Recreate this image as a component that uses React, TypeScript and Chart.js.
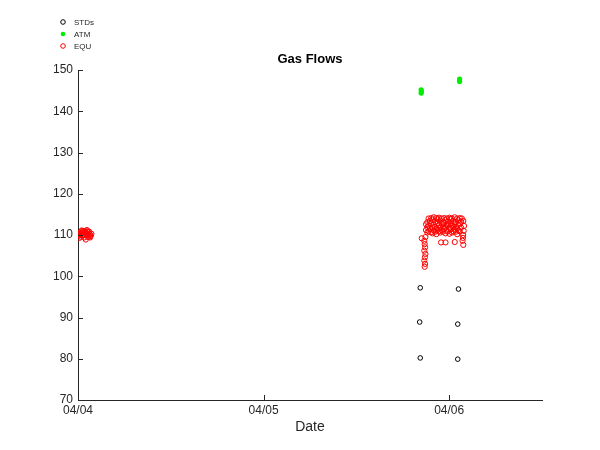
import React, { useEffect, useRef } from "react";
import { Chart, registerables } from "chart.js";
Chart.register(...registerables);

// x values are days after 04/04 00:00
const dayLabels = ["04/04", "04/05", "04/06"];
const dayTicks = [0, 1, 2];

const stdTimes = [1.844, 1.841, 1.844, 2.05, 2.046, 2.046];
const stdValues = [97.2, 88.9, 80.2, 96.9, 88.4, 79.9];

const atmTimes = [1.849, 1.849, 1.85, 2.056, 2.056];
const atmValues = [145.2, 144.4, 144.8, 147.8, 147.2];

const equLeftTimes = [0.0, 0.003, 0.006, 0.009, 0.012, 0.015, 0.018, 0.021, 0.024, 0.027, 0.03, 0.033, 0.036, 0.039, 0.042, 0.045, 0.048, 0.051, 0.054, 0.057, 0.06, 0.063, 0.066, 0.069, 0.072, 0.008, 0.02, 0.035, 0.05, 0.065];
const equLeftValues = [110.0, 109.8, 110.2, 110.5, 109.6, 110.8, 110.3, 109.9, 110.6, 111.0, 110.1, 109.4, 110.7, 110.9, 108.9, 110.4, 111.2, 110.0, 109.5, 110.6, 110.8, 110.2, 109.7, 109.9, 110.3, 109.3, 111.1, 110.0, 110.9, 109.4];

const equRightTimes = [
  1.866, 1.868, 1.87, 1.866, 1.872, 1.869, 1.866, 1.87, 1.868,
  1.852, 1.872, 1.956, 1.98, 2.03, 2.076,
  2.075, 2.078, 2.072, 2.08, 2.076, 2.068, 2.074,
  1.875, 1.875,
  1.882, 1.882, 1.882,
  1.889, 1.889, 1.889,
  1.896, 1.896,
  1.903, 1.903, 1.903,
  1.91, 1.91, 1.91,
  1.917, 1.917, 1.917,
  1.924, 1.924, 1.924,
  1.931, 1.931, 1.931,
  1.938, 1.938, 1.938,
  1.945, 1.945, 1.945,
  1.952, 1.952, 1.952,
  1.959, 1.959, 1.959,
  1.966, 1.966, 1.966,
  1.973, 1.973, 1.973,
  1.98, 1.98, 1.98,
  1.987, 1.987, 1.987,
  1.994, 1.994, 1.994,
  2.001, 2.001, 2.001,
  2.008, 2.008, 2.008,
  2.015, 2.015, 2.015,
  2.022, 2.022, 2.022,
  2.029, 2.029, 2.029,
  2.036, 2.036, 2.036,
  2.043, 2.043, 2.043,
  2.05, 2.05, 2.05,
  2.057, 2.057, 2.057,
  2.064, 2.064,
];
const equRightValues = [
  108.6, 107.8, 107.0, 106.2, 105.4, 104.6, 103.8, 103.0, 102.3,
  109.2, 109.5, 108.2, 108.2, 108.3, 107.6,
  110.0, 111.0, 108.6, 112.2, 113.4, 114.0, 109.3,
  111.2, 112.6,
  110.6, 113.1, 111.9,
  112.3, 114.0, 110.9,
  111.5, 113.4,
  110.7, 112.8, 114.1,
  111.9, 113.7, 110.4,
  112.5, 114.3, 111.1,
  110.8, 113.2, 112.0,
  111.6, 114.1, 110.2,
  112.9, 113.8, 111.3,
  110.9, 112.3, 114.2,
  111.8, 113.5, 110.6,
  112.7, 114.0, 111.2,
  110.8, 113.0, 112.1,
  111.5, 114.1, 112.9,
  110.4, 113.6, 111.9,
  112.4, 114.0, 111.0,
  110.9, 113.3, 112.6,
  111.7, 114.2, 110.3,
  112.8, 113.9, 111.4,
  110.6, 112.2, 114.0,
  111.9, 113.4, 110.9,
  112.6, 114.3, 111.3,
  110.8, 113.1, 112.0,
  111.6, 114.0, 110.2,
  112.5, 113.6, 111.1,
  110.9, 112.9, 114.1,
  111.8, 113.2,
];

const seriesNames = ["STDs", "ATM", "EQU"];
const titleText = "Gas Flows";
const xTitle = "Date";

const pts = (xs: number[], ys: number[]) => xs.map((x, i) => ({ x, y: ys[i] }));

const AXIS = "#262626";
const FONT = "'Liberation Sans', Arial, sans-serif";

const decorPlugin = {
  id: "decor",
  afterDraw(chart: any) {
    const ctx = chart.ctx;
    const xs = chart.scales.x;
    const ys = chart.scales.y;
    const area = chart.chartArea;
    ctx.save();
    // inward ticks
    ctx.strokeStyle = AXIS;
    ctx.lineWidth = 1;
    ctx.beginPath();
    ys.ticks.forEach((t: any) => {
      const p = Math.round(ys.getPixelForValue(t.value)) + 0.5;
      ctx.moveTo(area.left, p);
      ctx.lineTo(area.left + 5, p);
    });
    xs.ticks.forEach((t: any) => {
      const p = Math.round(xs.getPixelForValue(t.value)) + 0.5;
      ctx.moveTo(p, area.bottom);
      ctx.lineTo(p, area.bottom - 5);
    });
    ctx.stroke();
    // title
    ctx.fillStyle = "#000";
    ctx.font = `bold 13px ${FONT}`;
    ctx.textAlign = "center";
    ctx.textBaseline = "middle";
    ctx.fillText(titleText, (area.left + area.right) / 2, 59);
    // legend
    const ly = [22, 34, 46];
    ctx.font = `8px ${FONT}`;
    ctx.textAlign = "left";
    chart.data.datasets.forEach((ds: any, i: number) => {
      ctx.beginPath();
      ctx.arc(63, ly[i], 2.3, 0, Math.PI * 2);
      if (ds.pointBackgroundColor && ds.pointBackgroundColor !== "transparent") {
        ctx.fillStyle = ds.pointBackgroundColor;
        ctx.fill();
      } else {
        ctx.strokeStyle = ds.pointBorderColor;
        ctx.lineWidth = 1;
        ctx.stroke();
      }
      ctx.fillStyle = AXIS;
      ctx.fillText(ds.label, 74, ly[i] + 0.5);
    });
    ctx.restore();
  },
};

export default function App() {
  const ref = useRef<HTMLCanvasElement | null>(null);
  useEffect(() => {
    if (!ref.current) return;
    const chart = new Chart(ref.current, {
      type: "scatter",
      data: {
        datasets: [
          {
            label: seriesNames[0],
            data: pts(stdTimes, stdValues),
            pointRadius: 2.3,
            pointBorderWidth: 1,
            pointBorderColor: "#000000",
            pointBackgroundColor: "transparent",
            showLine: false,
          },
          {
            label: seriesNames[1],
            data: pts(atmTimes, atmValues),
            pointRadius: 2.6,
            pointBorderWidth: 0,
            pointBorderColor: "#00ee00",
            pointBackgroundColor: "#00ee00",
            showLine: false,
          },
          {
            label: seriesNames[2],
            data: pts([...equLeftTimes, ...equRightTimes], [...equLeftValues, ...equRightValues]),
            pointRadius: 2.6,
            pointBorderWidth: 1,
            pointBorderColor: "#ff0000",
            pointBackgroundColor: "transparent",
            showLine: false,
          },
        ],
      },
      options: {
        responsive: false,
        animation: false,
        devicePixelRatio: 1,
        layout: { padding: { top: 70, right: 58, bottom: 0, left: 0 } },
        plugins: {
          legend: { display: false },
          title: { display: false },
          tooltip: { enabled: false },
        },
        scales: {
          x: {
            type: "linear",
            min: 0,
            max: 2.5,
            afterBuildTicks: (s: any) => {
              s.ticks = dayTicks.map((v) => ({ value: v }));
            },
            afterFit: (s: any) => {
              s.height = 50;
            },
            grid: { display: false, drawTicks: false },
            border: { display: true, color: AXIS, width: 1 },
            ticks: {
              color: AXIS,
              font: { family: FONT, size: 12 },
              padding: 3,
              maxRotation: 0,
              autoSkip: false,
              callback: (v: any) => dayLabels[dayTicks.indexOf(Number(v))] ?? "",
            },
            title: {
              display: true,
              text: xTitle,
              color: AXIS,
              font: { family: FONT, size: 14 },
              padding: { top: 2, bottom: 14 },
            },
          },
          y: {
            type: "linear",
            min: 70,
            max: 150,
            afterFit: (s: any) => {
              s.width = 78;
            },
            grid: { display: false, drawTicks: false },
            border: { display: true, color: AXIS, width: 1 },
            ticks: {
              stepSize: 10,
              color: AXIS,
              font: { family: FONT, size: 12 },
              padding: 5,
            },
          },
        },
      },
      plugins: [decorPlugin],
    });
    return () => chart.destroy();
  }, []);
  return (
    <div style={{ position: "absolute", left: 0, top: 0, width: 600, height: 450, background: "#fff" }}>
      <canvas ref={ref} width={600} height={450} />
    </div>
  );
}
